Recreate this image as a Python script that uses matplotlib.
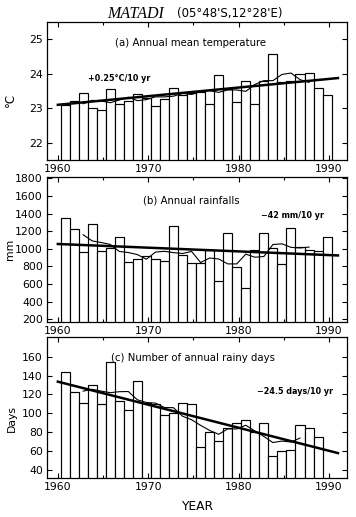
import matplotlib
matplotlib.use("Agg")
import matplotlib.pyplot as plt
import numpy as np
from matplotlib.ticker import MultipleLocator

# --- data ------------------------------------------------------------------
years = np.arange(1960, 1990)
days_years = np.arange(1960, 1989)

temp = [23.08, 23.20, 23.45, 23.00, 22.94, 23.57, 23.11, 23.20, 23.40, 23.30,
        23.07, 23.28, 23.60, 23.38, 23.44, 23.46, 23.13, 23.97, 23.57, 23.17,
        23.80, 23.12, 23.78, 24.57, 23.75, 23.78, 24.00, 24.02, 23.60, 23.37]
rain = [1355, 1220, 965, 1280, 980, 1005, 1130, 855, 880, 920,
        890, 865, 1260, 925, 845, 840, 985, 630, 1180, 790,
        560, 985, 1185, 1005, 830, 1240, 1025, 985, 970, 1130]
days = [144, 122.5, 111, 129.5, 110, 154, 112.5, 103, 134.5, 111,
        110, 98, 100, 111, 110, 64.5, 79.5, 70, 84, 89.5,
        93, 79.5, 89.5, 54, 60, 60.5, 87.5, 84.5, 75]

# 5-yr running means (thin curve)
smooth_years = np.arange(1962, 1988)
days_smooth_years = np.arange(1962, 1987)
temp_smooth = [23.13, 23.23, 23.21, 23.16, 23.24, 23.32, 23.22, 23.25, 23.33,
               23.33, 23.35, 23.43, 23.40, 23.48, 23.51, 23.46, 23.53, 23.53,
               23.49, 23.69, 23.80, 23.80, 23.98, 24.02, 23.83, 23.75]
rain_smooth = [1160, 1090, 1072, 1050, 970, 958, 935, 882, 963, 972, 957, 947,
               971, 845, 896, 885, 829, 829, 940, 905, 913, 1049, 1057, 1017,
               1010, 1020]
days_smooth = [123.4, 125.4, 123.4, 121.8, 122.8, 123.0, 114.2, 111.3, 110.7,
               106.0, 105.8, 96.7, 93.0, 87.0, 81.6, 77.5, 83.2, 83.2, 87.1,
               81.1, 75.2, 68.7, 70.3, 69.3, 73.5]

# linear trends (end points)
trend_years = [1960, 1991]
temp_trend = [23.10, 23.875]
rain_trend = [1055, 925]
days_trend = [133.5, 57.5]

BAR_SHIFT = 0.3

plt.rcParams["font.family"] = ["DejaVu Sans"]

fig = plt.figure(figsize=(3.56, 5.17), dpi=100)

L, W = 47 / 356, 300 / 356
ax_a = fig.add_axes([L, 1 - 160 / 517, W, 138 / 517])
ax_b = fig.add_axes([L, 1 - 322 / 517, W, 145 / 517])
ax_c = fig.add_axes([L, 1 - 478 / 517, W, 141 / 517])


def panel(ax, x, vals, sx, svals, tvals, ylim, ystep):
    ax.bar(x + BAR_SHIFT, vals, width=1.0, align="edge", bottom=0,
           color="white", edgecolor="black", linewidth=0.85, zorder=1)
    ax.plot(np.asarray(sx) + BAR_SHIFT + 0.5, svals, color="black", lw=0.8, zorder=2)
    ax.plot(trend_years, tvals, color="black", lw=1.8, zorder=3)
    ax.set_xlim(1958.8, 1992)
    ax.set_ylim(*ylim)
    ax.xaxis.set_major_locator(MultipleLocator(10))
    ax.xaxis.set_minor_locator(MultipleLocator(5))
    ax.yaxis.set_major_locator(MultipleLocator(ystep))
    ax.tick_params(which="both", direction="in", top=True, right=True,
                   labelsize=7.8, width=0.8)
    ax.tick_params(which="major", length=3.5, pad=3)
    ax.tick_params(which="minor", length=2)
    for s in ax.spines.values():
        s.set_linewidth(0.9)


panel(ax_a, years, temp, smooth_years, temp_smooth, temp_trend, (21.5, 25.5), 1)
panel(ax_b, years, rain, smooth_years, rain_smooth, rain_trend, (170, 1815), 200)
panel(ax_c, days_years, days, days_smooth_years, days_smooth, days_trend, (31, 181), 20)
ax_b.set_yticks(range(200, 1801, 200))
ax_c.set_yticks(range(40, 161, 20))

ax_a.text(0.48, 0.845, "(a) Annual mean temperature", transform=ax_a.transAxes,
          ha="center", va="center", fontsize=7.3)
ax_b.text(0.48, 0.84, "(b) Annual rainfalls", transform=ax_b.transAxes,
          ha="center", va="center", fontsize=7.3)
ax_c.text(0.487, 0.85, "(c) Number of annual rainy days", transform=ax_c.transAxes,
          ha="center", va="center", fontsize=7.3)

ax_a.text(1963.3, 23.85, "+0.25°C/10 yr", ha="left", va="center",
          fontsize=5.8, fontweight="bold")
ax_b.text(1989.4, 1381, "\u221242 mm/10 yr", ha="right", va="center",
          fontsize=5.8, fontweight="bold")
ax_c.text(1990.5, 123, "\u221224.5 days/10 yr", ha="right", va="center",
          fontsize=5.8, fontweight="bold")

ax_a.set_ylabel("°C", fontsize=8.5)
ax_a.yaxis.set_label_coords(-0.10, 0.435)
ax_b.set_ylabel("mm", fontsize=7.8)
ax_b.yaxis.set_label_coords(-0.105, 0.5)
ax_c.set_ylabel("Days", fontsize=7.8)
ax_c.yaxis.set_label_coords(-0.10, 0.42)
ax_c.set_xlabel("YEAR", fontsize=8.8)
ax_c.xaxis.set_label_coords(0.5, -0.155)

fig.text(107 / 356, 1 - 14 / 517, "MATADI", family="Liberation Serif",
         style="italic", fontsize=11.5, ha="left", va="center")
fig.text(177 / 356, 1 - 14 / 517, "(05°48'S,12°28'E)", fontsize=8.5,
         ha="left", va="center")

fig.savefig("out.png", dpi=100)
